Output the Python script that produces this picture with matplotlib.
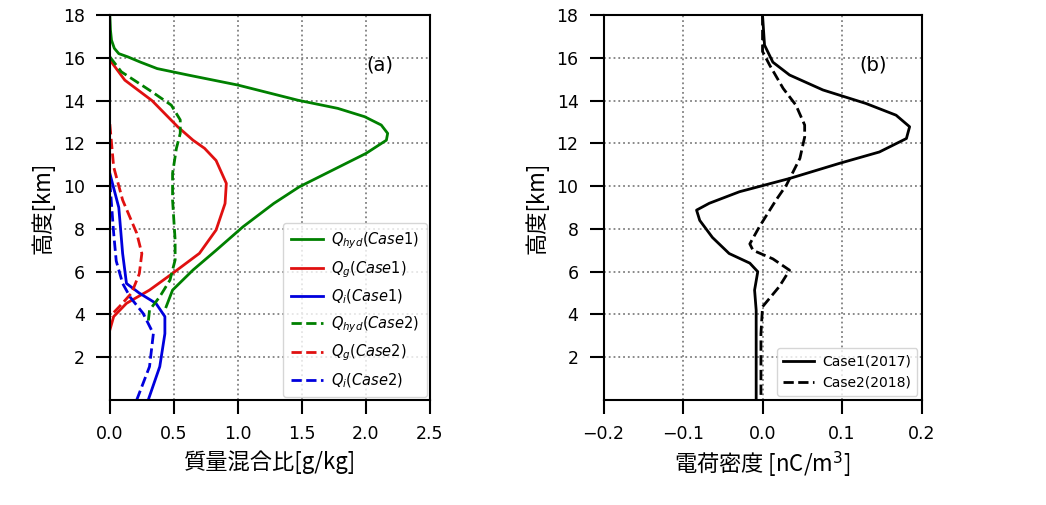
import matplotlib.pyplot as plt

# (a) mixing ratio profiles [g/kg] vs height [km]
h_hyd1 = [18.0, 17.3, 16.83, 16.45, 16.2, 16.05, 15.8, 15.5, 15.2, 14.73, 14.02, 13.64, 13.25, 12.86, 12.47, 12.15,
          11.53, 10.75, 9.97, 9.19, 8.1, 7.0, 6.08, 5.14, 4.36]
q_hyd1 = [0.0, 0.005, 0.013, 0.035, 0.07, 0.14, 0.24, 0.37, 0.61, 1.0, 1.47, 1.78, 1.99, 2.12, 2.17, 2.16,
          2.0, 1.74, 1.48, 1.28, 1.04, 0.83, 0.65, 0.49, 0.44]

h_g1 = [16.0, 15.8, 14.96, 14.0, 12.78, 12.15, 11.77, 11.2, 10.13, 9.19, 7.95, 6.86, 5.92, 5.14, 4.52, 3.9, 3.27]
q_g1 = [0.0, 0.013, 0.117, 0.33, 0.53, 0.65, 0.74, 0.83, 0.91, 0.90, 0.83, 0.70, 0.49, 0.31, 0.13, 0.03, 0.0]

h_i1 = [10.6, 9.0, 6.85, 5.45, 5.0, 4.52, 3.9, 3.1, 1.56, 0.0]
q_i1 = [0.0, 0.07, 0.10, 0.13, 0.23, 0.36, 0.43, 0.43, 0.39, 0.30]

h_hyd2 = [16.05, 15.35, 14.41, 13.79, 13.1, 12.47, 11.77, 10.6, 9.35, 7.48, 6.55, 5.61, 4.83, 4.2, 3.66]
q_hyd2 = [0.0, 0.09, 0.33, 0.48, 0.55, 0.55, 0.52, 0.49, 0.49, 0.51, 0.51, 0.47, 0.39, 0.31, 0.30]

h_g2 = [12.9, 10.9, 9.35, 7.8, 6.85, 5.9, 5.0, 4.4, 3.9]
q_g2 = [0.0, 0.03, 0.10, 0.21, 0.25, 0.23, 0.17, 0.08, 0.0]

h_i2 = [10.2, 7.8, 6.5, 5.45, 4.8, 4.05, 3.1, 1.56, 0.0]
q_i2 = [0.0, 0.03, 0.05, 0.10, 0.16, 0.26, 0.34, 0.31, 0.21]

# (b) charge density [nC/m3]
h_c1 = [18.0, 16.6, 15.8, 15.2, 14.5, 13.87, 13.32, 12.78, 12.23, 11.6, 11.07, 10.36, 9.74, 9.2, 8.88,
        8.4, 7.6, 6.85, 6.4, 6.0, 5.14, 4.2, 0.0]
c_1 = [0.0, 0.0025, 0.013, 0.034, 0.076, 0.13, 0.168, 0.185, 0.181, 0.147, 0.097, 0.034, -0.029, -0.067, -0.083,
       -0.079, -0.063, -0.042, -0.016, -0.006, -0.010, -0.008, -0.008]

h_c2 = [18.0, 16.3, 15.66, 14.57, 13.79, 12.86, 12.3, 11.3, 10.05, 9.35, 8.1, 7.3, 7.0, 6.6, 6.07, 5.3, 4.36, 3.1, 0.0]
c_2 = [0.0, 0.0, 0.009, 0.026, 0.042, 0.053, 0.053, 0.047, 0.03, 0.017, -0.004, -0.016, -0.012, 0.013, 0.034,
       0.021, 0.0, -0.002, -0.002]

jp = ['Noto Sans CJK JP', 'DejaVu Sans']
lw = 2.0

fig = plt.figure(figsize=(10.46, 5.05), dpi=100)
ax1 = fig.add_axes([0.105, 0.208, 0.306, 0.762])
ax2 = fig.add_axes([0.577, 0.208, 0.304, 0.762])

ax1.plot(q_hyd1, h_hyd1, color='green', lw=lw, label='$Q_{hyd}(Case1)$')
ax1.plot(q_g1, h_g1, color='#e01010', lw=lw, label='$Q_{g}(Case1)$')
ax1.plot(q_i1, h_i1, color='#0000dd', lw=lw, label='$Q_{i}(Case1)$')
ax1.plot(q_hyd2, h_hyd2, color='green', lw=lw, ls='--', label='$Q_{hyd}(Case2)$')
ax1.plot(q_g2, h_g2, color='#e01010', lw=lw, ls='--', label='$Q_{g}(Case2)$')
ax1.plot(q_i2, h_i2, color='#0000dd', lw=lw, ls='--', label='$Q_{i}(Case2)$')
ax1.set_xlim(0, 2.5)
ax1.set_xticks([0.0, 0.5, 1.0, 1.5, 2.0, 2.5])
ax1.set_xlabel('質量混合比[g/kg]', family=jp, fontsize=16, labelpad=5)
ax1.text(2.0, 15.4, '(a)', fontsize=14)
ax1.legend(loc='lower right', fontsize=10.5, handlelength=2.2, labelspacing=0.55,
           borderpad=0.5, handletextpad=0.6, borderaxespad=0.2, framealpha=0.8)

ax2.plot(c_1, h_c1, color='black', lw=lw, label='Case1(2017)')
ax2.plot(c_2, h_c2, color='black', lw=lw, ls='--', label='Case2(2018)')
ax2.set_xlim(-0.2, 0.2)
ax2.set_xticks([-0.2, -0.1, 0.0, 0.1, 0.2])
ax2.set_xlabel('電荷密度 [nC/m$^3$]', family=jp, fontsize=16, labelpad=5)
ax2.text(0.122, 15.4, '(b)', fontsize=14)
ax2.legend(loc='lower right', fontsize=10, handlelength=2.2, borderpad=0.45,
           handletextpad=0.6, borderaxespad=0.3, framealpha=0.8)

for ax in (ax1, ax2):
    ax.set_ylim(0, 18)
    ax.set_yticks(range(2, 19, 2))
    ax.set_ylabel('高度[km]', family=jp, fontsize=16, labelpad=6)
    ax.grid(True, ls=':', color='gray', lw=1.3)
    ax.tick_params(labelsize=12.5, length=10, width=1.5, pad=8)
    for s in ax.spines.values():
        s.set_linewidth(1.5)

fig.savefig('out.png', dpi=100)
